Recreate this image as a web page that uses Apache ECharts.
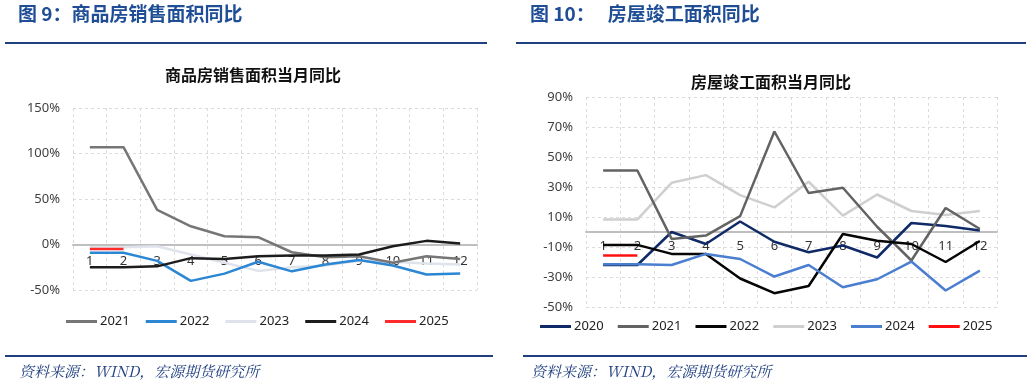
<!DOCTYPE html>
<html><head><meta charset="utf-8">
<script src="https://cdn.jsdelivr.net/npm/echarts@6/dist/echarts.min.js"></script>
<style>html,body{margin:0;padding:0;background:#fff}#c{width:1032px;height:387px}</style>
</head><body><div id="c"></div>
<script>
const months = ['1','2','3','4','5','6','7','8','9','10','11','12'];
// Left: 商品房销售面积当月同比 (%)
const salesNames = ['2021','2022','2023','2024','2025'];
const sales2021 = [107,107,38,20,9,8,-8.5,-14,-13,-20,-13,-16];
const sales2022 = [-9,-9,-18,-40,-32,-19,-29.5,-22,-17,-23,-33,-32];
const sales2023 = [-3,-3,-2,-11,-20,-29,-25,-23,-18,-19,-21,-22];
const sales2024 = [-25,-25,-24,-15,-16,-13,-12,-12,-11,-2,4,1];
const sales2025 = [-5,-5];
// Right: 房屋竣工面积当月同比 (%)
const compNames = ['2020','2021','2022','2023','2024','2025'];
const comp2020 = [-22,-22,0,-8,7,-6.5,-13.5,-9,-17,6,4,1];
const comp2021 = [41,41,-4.6,-2.4,10.6,67,26,29.5,3.5,-19,16,2];
const comp2022 = [-8.6,-8.6,-14.6,-14.6,-31,-40.8,-36,-1.3,-5.8,-8,-20,-6];
const comp2023 = [8.4,8.4,32.8,37.9,24.6,16.4,33.5,10.9,25,14,11.3,14];
const comp2024 = [-21.5,-21.5,-22,-14.6,-18,-29.7,-22,-36.8,-31.5,-19.7,-39,-25.7];
const comp2025 = [-15.7,-15.7];

const salesData = [sales2021,sales2022,sales2023,sales2024,sales2025];
const salesColors = ['#767676','#2b86d3','#dfe4ec','#1c1c1c','#ff2a2a'];
const compData = [comp2020,comp2021,comp2022,comp2023,comp2024,comp2025];
const compColors = ['#0f2a66','#636363','#050505','#cfcfcf','#4a7fd0','#ff1010'];

const LBL = {color:'#404040', fontSize:13, fontFamily:'Noto Sans, sans-serif'};
const HDR = '#1f4e96';
const sKey = n => 'S' + n;   // unique series ids per panel
const cKey = n => 'C' + n;

const chart = echarts.init(document.getElementById('c'), null, {renderer:'canvas'});
const series = [];
salesData.forEach((d,i)=>series.push({name:sKey(salesNames[i]), type:'line', xAxisIndex:0, yAxisIndex:0, data:d,
  symbol:'none', lineStyle:{width:2.5, color:salesColors[i]}, itemStyle:{color:salesColors[i]}, z: i===2?1:2}));
compData.forEach((d,i)=>series.push({name:cKey(compNames[i]), type:'line', xAxisIndex:1, yAxisIndex:1, data:d,
  symbol:'none', lineStyle:{width:2.5, color:compColors[i]}, itemStyle:{color:compColors[i]}, z: i===3?1:2}));

function xAxis(gi, margin, offset){
  return {type:'category', gridIndex:gi, data:months, boundaryGap:true, offset:offset,
    axisLine:{onZero:false, lineStyle:{color:'#bfbfbf', width:2}}, axisTick:{show:false},
    axisLabel:{...LBL, margin:margin, color:'#333'}, splitLine:{show:false}};
}
function xGridAxis(gi){
  return {type:'category', gridIndex:gi, data:months, boundaryGap:true, position:'bottom',
    axisLine:{show:false}, axisTick:{show:false}, axisLabel:{show:false},
    splitLine:{show:true, lineStyle:{color:'#dcdcdc', type:[3,3], width:1}}};
}
function yAxis(gi, min, max, interval){
  return {type:'value', gridIndex:gi, min:min, max:max, interval:interval,
    axisLine:{show:false}, axisTick:{show:false},
    axisLabel:{...LBL, formatter:'{value}%', margin:13},
    splitLine:{show:true, lineStyle:{color:'#dcdcdc', type:[3,3], width:1}}};
}
const legendText = {color:'#222', fontSize:13, fontFamily:'Noto Sans, sans-serif', padding:[0,0,0,-2]};

chart.setOption({
  animation:false,
  grid:[
    {left:73, right:555, top:108, bottom:97, containLabel:false},
    {left:586, right:35, top:97, bottom:80, containLabel:false}
  ],
  xAxis:[xAxis(0,10,-45.5), xAxis(1,8,-75), xGridAxis(0), xGridAxis(1)],
  yAxis:[yAxis(0,-50,150,50), yAxis(1,-50,90,20)],
  legend:[
    {data:salesNames.map(sKey), formatter:n=>n.slice(1), left:66, top:315, padding:0, icon:'rect',
      itemWidth:31, itemHeight:3, itemGap:16, textStyle:legendText},
    {data:compNames.map(cKey), formatter:n=>n.slice(1), left:540, top:320, padding:0, icon:'rect',
      itemWidth:31, itemHeight:3, itemGap:14, textStyle:legendText}
  ],
  series:series,
  graphic:[
    {type:'text', left:18, top:4, style:{text:'图 9：商品房销售面积同比', fill:HDR, font:'bold 19px "Noto Sans CJK SC", sans-serif'}},
    {type:'text', left:530, top:4, style:{text:'图 10：   房屋竣工面积同比', fill:HDR, font:'bold 19px "Noto Sans CJK SC", sans-serif'}},
    {type:'rect', shape:{x:5, y:42, width:482, height:2}, style:{fill:'#1f3f7f'}},
    {type:'rect', shape:{x:516, y:42, width:510, height:2}, style:{fill:'#1f3f7f'}},
    {type:'text', x:253, y:75, style:{text:'商品房销售面积当月同比', fill:'#111', font:'bold 16px "Noto Sans CJK SC", sans-serif', align:'center', verticalAlign:'middle'}},
    {type:'text', x:771, y:82, style:{text:'房屋竣工面积当月同比', fill:'#111', font:'bold 16px "Noto Sans CJK SC", sans-serif', align:'center', verticalAlign:'middle'}},
    {type:'rect', shape:{x:5, y:355, width:488, height:2}, style:{fill:'#1f3f7f'}},
    {type:'rect', shape:{x:523, y:355, width:504, height:2}, style:{fill:'#1f3f7f'}},
    {type:'text', left:19, top:364, style:{text:'资料来源：WIND，宏源期货研究所', fill:'#1f3f7f', font:'italic 15px "Noto Serif CJK SC","Noto Sans CJK SC", serif'}},
    {type:'text', left:531, top:364, style:{text:'资料来源：WIND，宏源期货研究所', fill:'#1f3f7f', font:'italic 15px "Noto Serif CJK SC","Noto Sans CJK SC", serif'}}
  ]
});
</script></body></html>
